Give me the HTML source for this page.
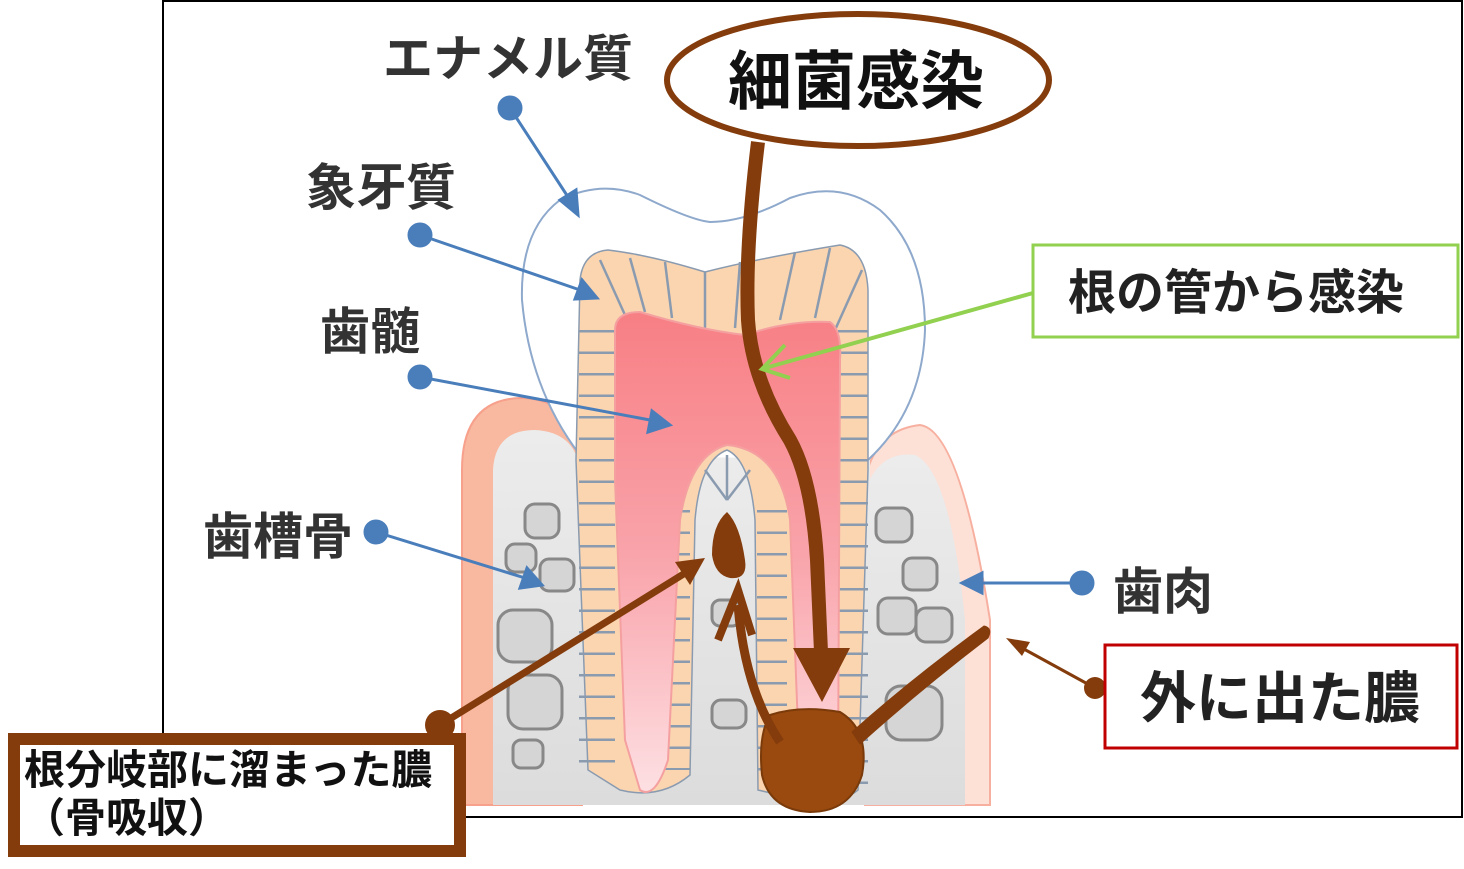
<!DOCTYPE html>
<html><head><meta charset="utf-8"><style>
html,body{margin:0;padding:0;background:#fff;width:1464px;height:869px;overflow:hidden}
svg{display:block}
text{font-family:"Liberation Sans","Noto Sans CJK JP",sans-serif}
</style></head><body>
<svg width="1464" height="869" viewBox="0 0 1464 869" xmlns="http://www.w3.org/2000/svg">
<defs>
<linearGradient id="pulp" x1="0" y1="0" x2="0" y2="1">
<stop offset="0" stop-color="#f77f84"/><stop offset="0.5" stop-color="#f9a3aa"/><stop offset="1" stop-color="#fde0e3"/>
</linearGradient>
<linearGradient id="bone" x1="0" y1="0" x2="0" y2="1">
<stop offset="0" stop-color="#ececec"/><stop offset="1" stop-color="#dcdcdc"/>
</linearGradient>
</defs>
<path d="M163 735 V1 H1462 V817 H465" fill="none" stroke="#000" stroke-width="2"/>

<path d="M462 805 V470 Q462 400 520 398 Q575 398 582 460 L582 805 Z" fill="#f9b9a0" stroke="#f7a08c" stroke-width="2"/>
<path d="M493 805 V470 Q495 430 535 430 Q575 432 580 470 V805 Z" fill="url(#bone)"/>
<path d="M865 805 V480 Q875 430 920 425 Q960 430 990 620 V805 Z" fill="#fde0d6" stroke="#f7b0a0" stroke-width="2"/>
<path d="M865 805 V490 Q880 450 915 455 Q950 470 965 620 V805 Z" fill="url(#bone)"/>
<rect x="580" y="450" width="290" height="355" fill="url(#bone)"/>
<g fill="#d5d5d5" stroke="#888" stroke-width="3">
<rect x="525" y="504" width="34" height="34" rx="10"/>
<rect x="506" y="544" width="30" height="28" rx="9"/>
<rect x="540" y="559" width="34" height="32" rx="9"/>
<rect x="498" y="610" width="54" height="52" rx="15"/>
<rect x="508" y="675" width="54" height="54" rx="15"/>
<rect x="513" y="740" width="30" height="28" rx="8"/>
<rect x="876" y="508" width="36" height="34" rx="10"/>
<rect x="903" y="558" width="34" height="32" rx="9"/>
<rect x="878" y="598" width="38" height="36" rx="10"/>
<rect x="916" y="608" width="36" height="34" rx="10"/>
<rect x="886" y="686" width="56" height="54" rx="15"/>
<rect x="712" y="600" width="28" height="26" rx="8"/>
<rect x="712" y="700" width="34" height="28" rx="9"/>
</g>

<path d="M580 455 Q530 390 522 300 Q520 230 560 200 Q600 180 640 195 Q690 220 710 222 Q745 222 790 198 Q840 180 880 210 Q925 250 925 330 Q922 410 868 460" fill="#fff" stroke="#8ea9cc" stroke-width="2"/>

<path d="M576 460 L580 280 Q583 252 608 250 Q650 255 705 272 Q760 258 840 245 Q866 250 868 290 L868 470 L858 790 Q840 805 800 800 L758 790 L755 520 Q750 460 727 450 Q700 460 695 520 L690 775 Q660 800 620 790 L588 770 Z" fill="#fbd5b0" stroke="#8a9bb0" stroke-width="1.5"/>
<g stroke="#8a9bb0" stroke-width="2.5" fill="none">
<line x1="597" y1="330" x2="597" y2="780" stroke-width="36" stroke-dasharray="2.5 19"/>
<line x1="853" y1="330" x2="853" y2="790" stroke-width="30" stroke-dasharray="2.5 19"/>
<line x1="675" y1="510" x2="675" y2="770" stroke-width="30" stroke-dasharray="2.5 19"/>
<line x1="772" y1="510" x2="772" y2="785" stroke-width="30" stroke-dasharray="2.5 19"/>
<line x1="600" y1="260" x2="625" y2="315"/><line x1="630" y1="258" x2="645" y2="312"/>
<line x1="665" y1="262" x2="672" y2="318"/><line x1="705" y1="272" x2="705" y2="330"/>
<line x1="740" y1="262" x2="735" y2="328"/><line x1="795" y1="252" x2="780" y2="320"/>
<line x1="830" y1="248" x2="815" y2="318"/><line x1="862" y1="270" x2="835" y2="330"/>
<line x1="727" y1="455" x2="727" y2="500"/><line x1="705" y1="470" x2="727" y2="500"/>
<line x1="750" y1="470" x2="727" y2="500"/>
</g>

<path d="M615 330 Q615 312 640 312 Q700 330 745 335 Q790 320 830 322 Q842 330 840 360 L838 780 Q825 800 815 790 L800 780 L790 520 Q780 450 727 445 Q690 455 680 520 L668 760 Q655 800 640 790 L625 740 L615 480 Z" fill="url(#pulp)" stroke="#f5a0a0" stroke-width="2"/>

<g stroke="#4a7ebb" stroke-width="3" fill="#4a7ebb">
<line x1="510" y1="108" x2="570" y2="200"/><polygon points="578,215 560,200 576,190"/><circle cx="510" cy="108" r="11"/>
<line x1="420" y1="235" x2="580" y2="290"/><polygon points="597,298 575,299 582,280"/><circle cx="420" cy="235" r="11"/>
<line x1="420" y1="377" x2="650" y2="420"/><polygon points="670,425 648,432 652,411"/><circle cx="420" cy="377" r="11"/>
<line x1="376" y1="532" x2="525" y2="578"/><polygon points="542,585 520,588 527,568"/><circle cx="376" cy="532" r="11"/>
<line x1="1082" y1="583" x2="978" y2="583"/><polygon points="962,583 982,573 982,593"/><circle cx="1082" cy="583" r="11"/>
</g>

<g fill="#843c0c" stroke="#843c0c">
<path d="M758 142 Q745 250 748 320 Q752 380 790 440 Q812 480 817 560 L821 652" fill="none" stroke-width="14"/>
<polygon points="793,648 850,648 822,702" stroke="none"/>
<path d="M770 715 Q800 705 840 712 Q870 730 862 775 Q850 812 810 812 Q770 810 762 775 Q758 735 770 715 Z" fill="#9a4a0e" stroke="#7a3a0a" stroke-width="2"/>
<path d="M852 732 Q910 680 984 626 Q993 628 988 638 Q920 690 860 744 Z" stroke-width="1"/>
<path d="M780 742 Q745 690 738 605" fill="none" stroke-width="9"/>
<path d="M718 640 L738 590 L752 635" fill="none" stroke-width="8"/>
<path d="M727 512 Q740 525 745 560 Q748 580 730 578 Q715 575 712 555 Q712 525 727 512 Z" stroke="none"/>
<line x1="440" y1="725" x2="690" y2="570" stroke-width="7"/>
<polygon points="705,558 675,562 690,585" stroke="none"/>
<circle cx="440" cy="725" r="15" stroke="none"/>
<line x1="1095" y1="688" x2="1022" y2="648" stroke-width="3"/>
<polygon points="1006,638 1030,642 1022,656" stroke="none"/>
<circle cx="1095" cy="688" r="11" stroke="none"/>
</g>

<g stroke="#92d050" stroke-width="4" fill="none">
<line x1="1033" y1="293" x2="765" y2="368"/>
<polyline points="785,345 762,369 790,378"/>
</g>

<ellipse cx="858" cy="80" rx="191" ry="66" fill="#fff" stroke="#843c0c" stroke-width="6"/>
<text x="856" y="104" font-size="64" font-weight="bold" text-anchor="middle" fill="#111">細菌感染</text>

<rect x="1033" y="245" width="425" height="92" fill="#fff" stroke="#92d050" stroke-width="3"/>
<text x="1236" y="309" font-size="48" font-weight="bold" text-anchor="middle" fill="#222">根の管から感染</text>

<rect x="1105" y="645" width="352" height="103" fill="#fff" stroke="#c00000" stroke-width="3"/>
<text x="1280" y="718" font-size="56" font-weight="bold" text-anchor="middle" fill="#222">外に出た膿</text>

<rect x="14" y="739" width="446" height="112" fill="#fff" stroke="#843c0c" stroke-width="12"/>
<text x="24" y="784" font-size="41" font-weight="bold" fill="#111">根分岐部に溜まった膿</text>
<text x="24" y="832" font-size="41" font-weight="bold" fill="#111">（骨吸収）</text>

<g fill="#333" font-size="50" font-weight="bold">
<text x="383" y="76">エナメル質</text>
<text x="306" y="205">象牙質</text>
<text x="320" y="349">歯髄</text>
<text x="203" y="554">歯槽骨</text>
<text x="1113" y="609">歯肉</text>
</g>
</svg>
</body></html>
